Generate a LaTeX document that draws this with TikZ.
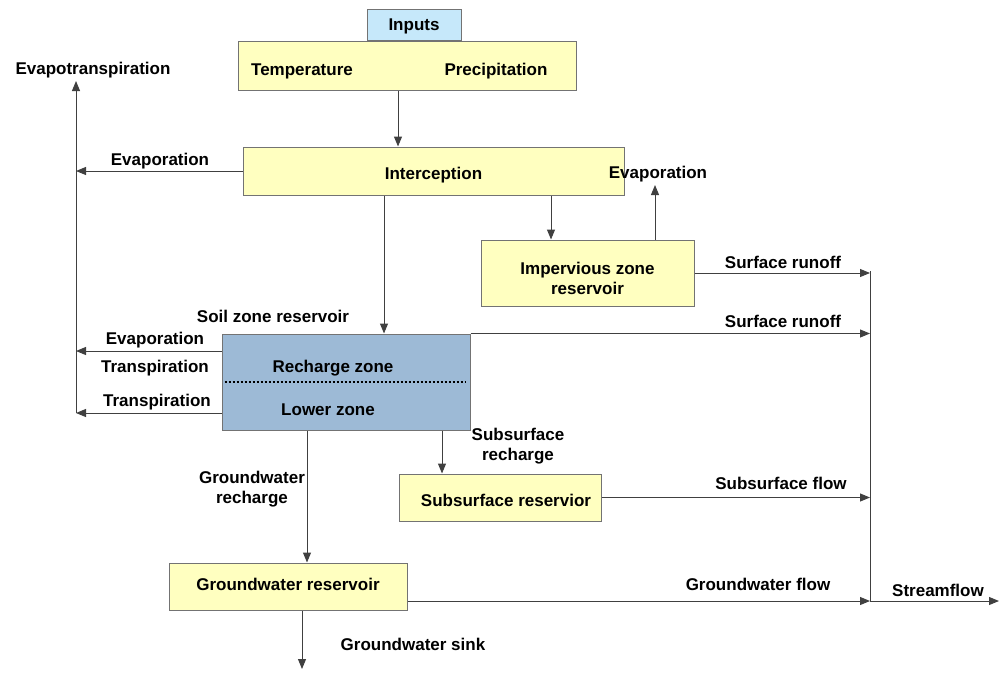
\documentclass[tikz,border=0pt]{standalone}
\usepackage{fontspec}
\setmainfont{Liberation Sans}
\usetikzlibrary{arrows, arrows.meta}

\definecolor{boxyellow}{RGB}{255,255,192}
\definecolor{boxblue}{RGB}{198,232,250}
\definecolor{soilblue}{RGB}{157,186,214}

\begin{document}
\begin{tikzpicture}[
                > = {Triangle[length=10pt,width=8pt]}, % arrow head style
                x = 1pt, y = -1pt, % pixel grid, y runs down
                line width = 1pt, % line style
                font = \bfseries\fontsize{17}{20}\selectfont
            ]

            \tikzstyle{box}=[draw = black!55, fill = boxyellow, inner sep = 0pt,
            text height = 12pt, text depth = 0pt]
            \tikzstyle{lbl}=[align = center, inner sep = 0pt, text height = 12pt,
            text depth = 0pt]
            \tikzstyle{lbltwo}=[align = center, inner sep = 0pt]
            \tikzstyle{flow}=[->, draw = black!75]

            \useasboundingbox (0,0) rectangle (1001,672);

            % boxes
            \node (inputs) [box, fill = boxblue, minimum width = 94pt,
            minimum height = 31pt] at (414,24.5) {Inputs};
            \node (climate) [box, minimum width = 338pt, minimum height = 49pt]
            at (407,65.5) {};
            \node (temp) [lbl] at (302,69.5) {Temperature};
            \node (precip) [lbl] at (496,69.5) {Precipitation};
            \node (intercept) [box, minimum width = 381pt, minimum height =
            48pt, text height = 16pt] at (433.5,171) {Interception};
            \node (imperv) [box, align = center, minimum width = 213pt,
            minimum height = 66pt, text height = 43pt] at (587.5,273)
            {Impervious zone\\reservoir};
            \node (soil) [box, fill = soilblue, minimum width = 248pt,
            minimum height = 96pt] at (346,382) {};
            \node (rzone) [lbl] at (333,366) {Recharge zone};
            \node (lzone) [lbl] at (328,409) {Lower zone};
            \node (subsurf) [box, minimum width = 202pt, minimum height = 47pt,
            text height = 17pt] at (500,497.5) {\hspace{12pt}Subsurface reservior};
            \node (gw) [box, minimum width = 238pt, minimum height = 47pt,
            text height = 7pt] at (288,586.5) {Groundwater reservoir};

            % labels
            \node (et) [lbl] at (93,68) {Evapotranspiration};
            \node (evap1) [lbl] at (160,159) {Evaporation};
            \node (evap2) [lbl] at (658,172) {Evaporation};
            \node (sro1) [lbl] at (783,262) {Surface runoff};
            \node (soillbl) [lbl] at (273,316) {Soil zone reservoir};
            \node (sro2) [lbl] at (783,321) {Surface runoff};
            \node (evap3) [lbl] at (155,338) {Evaporation};
            \node (transp1) [lbl] at (155,366) {Transpiration};
            \node (transp2) [lbl] at (157,400) {Transpiration};
            \node (ssrech) [lbltwo] at (518,446) {Subsurface\\recharge};
            \node (gwrech) [lbltwo] at (252,489) {Groundwater\\recharge};
            \node (ssflow) [lbl] at (781,483) {Subsurface flow};
            \node (gwflow) [lbl] at (758,584) {Groundwater flow};
            \node (stream) [lbl] at (938,590) {Streamflow};
            \node (gwsink) [lbl] at (413,644) {Groundwater sink};

            % free ends
            \coordinate (ettop) at (76,81);
            \coordinate (etbot) at (76,413);
            \coordinate (sftop) at (870,271);
            \coordinate (sfbot) at (870,601);
            \coordinate (sfend) at (999,601);
            \coordinate (ev2) at (655,185);
            \coordinate (sink) at (302,669);
            \coordinate (sw1) at ([yshift=31pt]soil.west);
            \coordinate (sw2) at ([yshift=-31pt]soil.west);
            \coordinate (gwe) at ([yshift=-14.5pt]gw.east);

            % dividing line in soil zone
            \draw[black, line width = 1.4pt, dash pattern = on 2pt off 2pt]
            ([xshift=3pt]soil.west) -- ([xshift=-5pt]soil.east);

            % collecting lines
            \path (etbot) edge[flow] (ettop);
            \path (sftop) edge[draw = black!75] (sfbot);
            \path (sfbot) edge[flow] (sfend);

            % flows
            \path ([xshift=-9pt]climate.south) edge[flow]
            ([xshift=-35.5pt]intercept.north);
            \path (intercept.west) edge[flow] (intercept.west -| ettop);
            \path ([xshift=-49.5pt]intercept.south) edge[flow]
            ([xshift=38pt]soil.north);
            \path ([xshift=117.5pt]intercept.south) edge[flow]
            ([xshift=-36.5pt]imperv.north);
            \path (ev2 |- imperv.north) edge[flow] (ev2);
            \path (imperv.east) edge[flow] (imperv.east -| sftop);
            \path (soil.north east) edge[flow] (soil.north east -| sftop);
            \path (sw1) edge[flow] (sw1 -| ettop);
            \path (sw2) edge[flow] (sw2 -| ettop);
            \path ([xshift=96pt]soil.south) edge[flow]
            ([xshift=-58pt]subsurf.north);
            \path ([xshift=-39pt]soil.south) edge[flow] ([xshift=19pt]gw.north);
            \path (subsurf.east) edge[flow] (subsurf.east -| sftop);
            \path (gwe) edge[flow] (gwe -| sfbot);
            \path (sink |- gw.south) edge[flow] (sink);

        \end{tikzpicture}
\end{document}
